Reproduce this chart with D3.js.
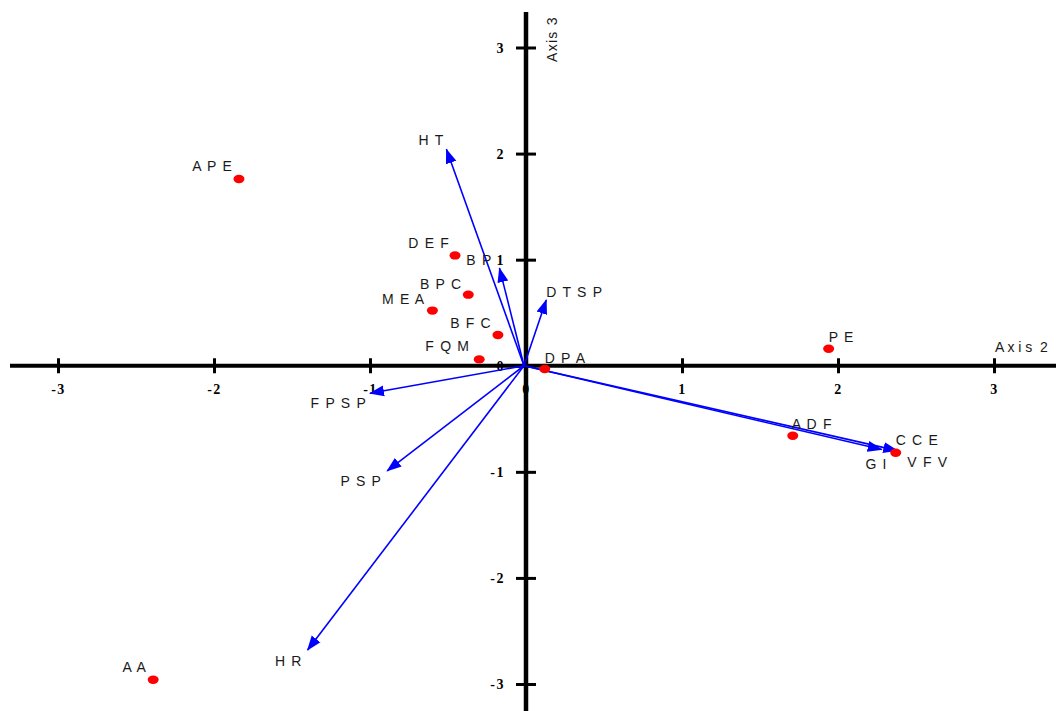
<!DOCTYPE html>
<html>
<head>
<meta charset="utf-8">
<script src="https://cdn.jsdelivr.net/npm/d3@7"></script>
<style>
  html, body { margin: 0; padding: 0; background: #fff; }
  svg { display: block; }
</style>
</head>
<body>
<svg id="chart" width="1056" height="711"></svg>
<script>
// Row scores (red points) on axes 2 and 3
const pointNames = ["APE", "DEF", "BPC", "MEA", "BFC", "FQM", "DPA", "PE", "ADF", "CCE", "AA"];
const pointX = [-1.84, -0.455, -0.37, -0.60, -0.18, -0.30, 0.12, 1.94, 1.71, 2.37, -2.39];
const pointY = [1.76, 1.04, 0.67, 0.52, 0.29, 0.06, -0.03, 0.16, -0.66, -0.82, -2.96];

// Variable loadings (blue arrows) on axes 2 and 3
const arrowNames = ["HT", "BP", "DTSP", "FPSP", "PSP", "HR", "GI", "VFV"];
const arrowX = [-0.51, -0.17, 0.13, -1.00, -0.89, -1.40, 2.28, 2.38];
const arrowY = [2.04, 0.92, 0.62, -0.26, -0.99, -2.68, -0.79, -0.80];

// Tick values for both axes
const xTicks = [-3, -2, -1, 0, 1, 2, 3];
const yTicks = [-3, -2, -1, 0, 1, 2, 3];

// Label placement relative to the mark: [anchor, dx, dy]
const labelPlacement = {
  APE: ["end", -6, -8], DEF: ["end", -5, -7], BPC: ["end", -6, -6], MEA: ["end", -7, -7],
  BFC: ["end", -6, -7], FQM: ["end", -9, -8], DPA: ["start", 0, -6], PE: ["start", 0, -7],
  ADF: ["start", -1, -7], CCE: ["start", 0, -8], AA: ["end", -6, -8],
  HT: ["end", -2, -4], BP: ["end", -7, -3], DTSP: ["start", 0, -3], FPSP: ["end", -3, 15],
  PSP: ["end", -5, 15], HR: ["end", -5, 16], GI: ["end", 6, 19], VFV: ["start", 10, 16]
};

const W = 1056, H = 711;
const svg = d3.select("#chart");

const x = d3.scaleLinear().domain([-3, 3]).range([58, 994]);
const y = d3.scaleLinear().domain([-3, 3]).range([684, 47.5]);

const spaced = s => s.split("").join(" ");

// Arrowhead marker
svg.append("defs").append("marker")
  .attr("id", "head")
  .attr("markerUnits", "userSpaceOnUse")
  .attr("viewBox", "0 -6 15 12")
  .attr("refX", 14).attr("refY", 0)
  .attr("markerWidth", 15).attr("markerHeight", 12)
  .attr("orient", "auto")
  .append("path")
  .attr("d", "M0,-5.5L15,0L0,5.5Z")
  .attr("fill", "#0000ff");

const tickFont = "'Liberation Serif', 'Times New Roman', serif";
const labelFont = "'Liberation Sans', Arial, sans-serif";

// Horizontal axis (Axis 2)
const gx = svg.append("g")
  .attr("transform", `translate(0,${y(0)})`)
  .call(d3.axisBottom(x).tickValues(xTicks).tickFormat(d => String(d)).tickSizeOuter(0));
gx.select(".domain").remove();
gx.selectAll(".tick line").attr("y1", -7.5).attr("y2", 7.5)
  .attr("stroke", "#000").attr("stroke-width", 3);
gx.selectAll(".tick text").attr("y", 28).attr("dy", 0)
  .attr("font-family", tickFont).attr("font-weight", "bold").attr("font-size", 14)
  .attr("letter-spacing", 1.5).attr("fill", "#000");
gx.append("line").attr("x1", 10).attr("x2", W).attr("y1", 0).attr("y2", 0)
  .attr("stroke", "#000").attr("stroke-width", 4);

// Vertical axis (Axis 3)
const gy = svg.append("g")
  .attr("transform", `translate(${x(0)},0)`)
  .call(d3.axisLeft(y).tickValues(yTicks).tickFormat(d => String(d)).tickSizeOuter(0));
gy.select(".domain").remove();
gy.selectAll(".tick line").attr("x1", -10).attr("x2", 10)
  .attr("stroke", "#000").attr("stroke-width", 3);
gy.selectAll(".tick text").attr("x", -21).attr("dy", "0.34em")
  .attr("font-family", tickFont).attr("font-weight", "bold").attr("font-size", 14)
  .attr("letter-spacing", 1.5).attr("fill", "#000");
gy.append("line").attr("x1", 0).attr("x2", 0).attr("y1", 12).attr("y2", H)
  .attr("stroke", "#000").attr("stroke-width", 4.5);

// Axis titles
svg.append("text")
  .attr("x", 995).attr("y", y(0) - 14)
  .attr("font-family", labelFont).attr("font-size", 14).attr("fill", "#1a1a1a")
  .attr("xml:space", "preserve")
  .text("A x i s \u00a02");
svg.append("text")
  .attr("transform", `translate(${x(0) + 31},62) rotate(-90)`)
  .attr("font-family", labelFont).attr("font-size", 14).attr("fill", "#1a1a1a")
  .attr("letter-spacing", 1.3)
  .text("Axis 3");

// Loading arrows
const arrows = arrowNames.map((n, i) => ({ name: n, vx: arrowX[i], vy: arrowY[i] }));
svg.append("g").selectAll("line").data(arrows).join("line")
  .attr("x1", x(0) - 2).attr("y1", y(0))
  .attr("x2", d => x(d.vx)).attr("y2", d => y(d.vy))
  .attr("stroke", "#0000ff").attr("stroke-width", 1.6)
  .attr("marker-end", "url(#head)");

// Score points
const points = pointNames.map((n, i) => ({ name: n, vx: pointX[i], vy: pointY[i] }));
svg.append("g").selectAll("ellipse").data(points).join("ellipse")
  .attr("cx", d => x(d.vx)).attr("cy", d => y(d.vy))
  .attr("rx", 5.5).attr("ry", 4.2)
  .attr("fill", "#ff0000");

// Labels for points and arrows
const labelled = points.concat(arrows);
svg.append("g").selectAll("text").data(labelled).join("text")
  .attr("x", d => x(d.vx) + labelPlacement[d.name][1])
  .attr("y", d => y(d.vy) + labelPlacement[d.name][2])
  .attr("text-anchor", d => labelPlacement[d.name][0])
  .attr("font-family", labelFont).attr("font-size", 14)
  .attr("letter-spacing", 1.2).attr("fill", "#1a1a1a")
  .text(d => spaced(d.name));
</script>
</body>
</html>
